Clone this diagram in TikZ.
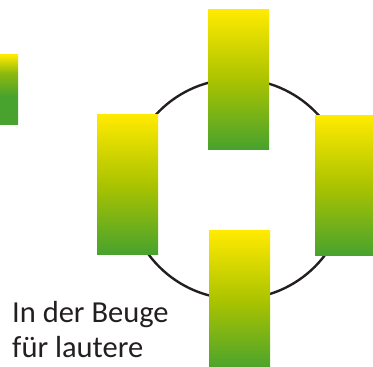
\documentclass[tikz,border=0pt]{standalone}
\usepackage{fontspec}
\setmainfont{Carlito}
\usepackage{tikz}
\definecolor{yellowA}{HTML}{FFEA00}
\definecolor{oliveA}{HTML}{AAC300}
\definecolor{greenA}{HTML}{47A22E}
\definecolor{inkA}{HTML}{231F20}
\pgfdeclareverticalshading{bargrad}{100bp}{
  color(0bp)=(greenA); color(25bp)=(greenA); color(50bp)=(oliveA);
  color(75bp)=(yellowA); color(100bp)=(yellowA)}
\pgfdeclareverticalshading{stubgrad}{100bp}{
  color(0bp)=(greenA); color(45bp)=(greenA); color(62bp)=(oliveA!70!greenA);
  color(75bp)=(yellowA); color(100bp)=(yellowA)}
\tikzset{
  bar/.style={
    shading=bargrad, draw=none, inner sep=0pt,
    minimum width=61pt, minimum height=140pt
  },
  stub/.style={
    shading=stubgrad, draw=none, inner sep=0pt,
    minimum width=18pt, minimum height=70pt
  },
  ring/.style={draw=inkA, line width=2.4pt},
  caption/.style={font=\fontsize{30.5}{35}\selectfont, text=inkA, align=left, inner sep=0pt}
}

\begin{document}
\begin{tikzpicture}[x=1pt, y=1pt]
  \useasboundingbox (0,0) rectangle (373,367);
  \clip (0,0) rectangle (373,367);
  \draw[ring] (237,178) circle (110);
  \node[stub] (stubbar) at (9,277) {};
  \node[bar] (topbar) at (238.5,287) {};
  \node[bar] (leftbar) at (127.5,182) {};
  \node[bar] (rightbar) at (345.5,181) {};
  \node[bar] (bottombar) at (239.5,66) {};
  \node[caption, anchor=base west] (label) at (12,9) {In der Beuge\\f\"ur lautere};
\end{tikzpicture}
\end{document}
